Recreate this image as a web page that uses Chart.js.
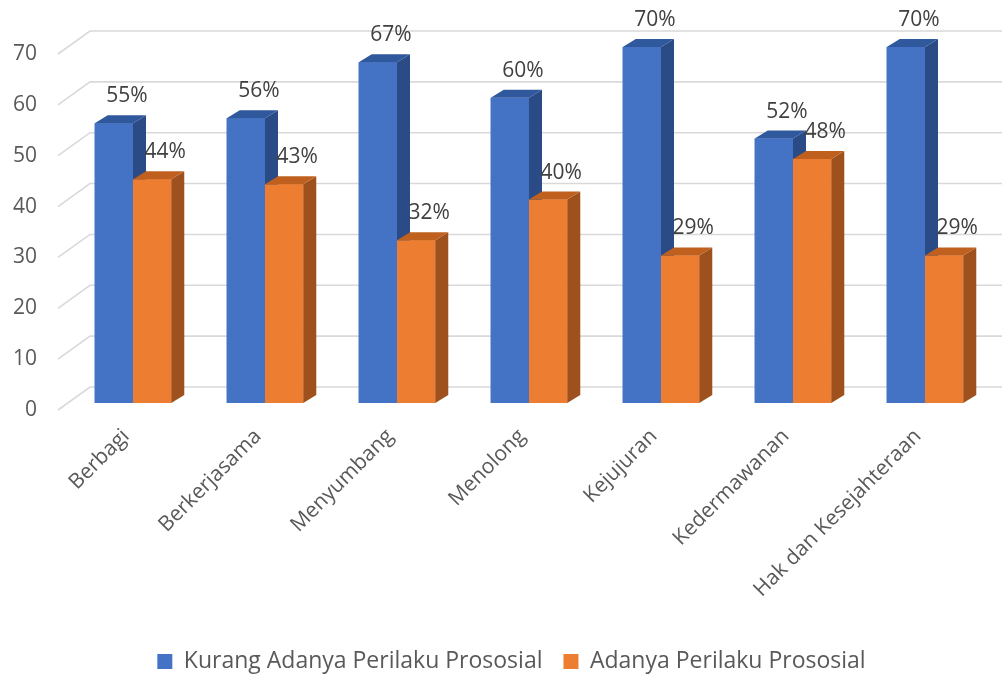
<!DOCTYPE html>
<html><head><meta charset="utf-8">
<script src="https://cdn.jsdelivr.net/npm/chart.js@4.4.1/dist/chart.umd.min.js"></script>
<style>html,body{margin:0;padding:0;background:#fff}#wrap{width:1002px;height:677px;position:relative}</style>
</head><body><div id="wrap"><canvas id="c"></canvas></div>
<script>
const categories = ['Berbagi', 'Berkerjasama', 'Menyumbang', 'Menolong', 'Kejujuran', 'Kedermawanan', 'Hak dan Kesejahteraan'];
const seriesNames = ['Kurang Adanya Perilaku Prososial', 'Adanya Perilaku Prososial'];
const kurangValues = [55, 56, 67, 60, 70, 52, 70];
const adanyaValues = [44, 43, 32, 40, 29, 48, 29];
const yTickValues = [0, 10, 20, 30, 40, 50, 60, 70];

const FONT = '"Open Sans", "Noto Sans", sans-serif';
const DX = 13, DY = 8;
const FRONT_X = 58, WALL_X = 90, FRONT_DY = 7, WALL_DY = -16;
const LEGEND_SHIFT = 32;
const faces = [
  {front: '#4472C4', top: '#30589C', side: '#2A4B85'},
  {front: '#ED7D31', top: '#C0601F', side: '#9E511C'}
];

const threeD = {
  id: 'threeD',
  afterLayout(chart) {
    if (chart.legend) chart.legend.left += LEGEND_SHIFT;
  },
  beforeDatasetsDraw(chart) {
    const {ctx, scales: {y}, width} = chart;
    ctx.save();
    ctx.strokeStyle = '#D9D9D9';
    ctx.lineWidth = 1.6;
    yTickValues.forEach(v => {
      const p = y.getPixelForValue(v);
      ctx.beginPath();
      ctx.moveTo(FRONT_X, p + FRONT_DY);
      ctx.lineTo(WALL_X, p + WALL_DY);
      ctx.lineTo(width, p + WALL_DY);
      ctx.stroke();
    });
    ctx.restore();
  },
  afterDatasetsDraw(chart) {
    const ctx = chart.ctx;
    const metas = [chart.getDatasetMeta(0), chart.getDatasetMeta(1)];
    ctx.save();
    for (let i = 0; i < categories.length; i++) {
      metas.forEach((m, d) => {
        const el = m.data[i];
        const {x, y, base, width} = el.getProps(['x', 'y', 'base', 'width'], true);
        const x0 = x - width / 2, x1 = x + width / 2;
        const c = faces[d];
        ctx.fillStyle = c.front;
        ctx.fillRect(x0, y, width, base - y);
        ctx.fillStyle = c.side;
        ctx.beginPath();
        ctx.moveTo(x1, y); ctx.lineTo(x1 + DX, y - DY); ctx.lineTo(x1 + DX, base - DY); ctx.lineTo(x1, base);
        ctx.closePath(); ctx.fill();
        ctx.fillStyle = c.top;
        ctx.beginPath();
        ctx.moveTo(x0, y); ctx.lineTo(x0 + DX, y - DY); ctx.lineTo(x1 + DX, y - DY); ctx.lineTo(x1, y);
        ctx.closePath(); ctx.fill();
      });
    }
    ctx.font = '21px ' + FONT;
    ctx.fillStyle = '#404040';
    ctx.textAlign = 'center';
    ctx.textBaseline = 'middle';
    metas.forEach((m, d) => {
      const vals = chart.data.datasets[d].data;
      m.data.forEach((el, i) => {
        ctx.fillText(vals[i] + '%', el.x + 13, el.y - DY - 19);
      });
    });
    ctx.restore();
  }
};

new Chart(document.getElementById('c'), {
  type: 'bar',
  data: {
    labels: categories,
    datasets: [
      {label: seriesNames[0], data: kurangValues, backgroundColor: faces[0].front, borderWidth: 0},
      {label: seriesNames[1], data: adanyaValues, backgroundColor: faces[1].front, borderWidth: 0}
    ]
  },
  options: {
    responsive: true,
    maintainAspectRatio: false,
    animation: false,
    datasets: {bar: {categoryPercentage: 0.58, barPercentage: 1}},
    layout: {padding: {top: 47, right: 11, left: 0, bottom: -6}},
    plugins: {
      legend: {
        position: 'bottom',
        labels: {boxWidth: 15, boxHeight: 15, padding: 21, color: '#595959', font: {family: FONT, size: 23}}
      },
      tooltip: {enabled: false}
    },
    scales: {
      x: {
        grid: {display: false, drawTicks: false},
        border: {display: false},
        ticks: {minRotation: 45, maxRotation: 45, padding: 21, labelOffset: -7, color: '#595959', font: {family: FONT, size: 21}},
        afterFit: s => { s.height = 226; }
      },
      y: {
        min: 0, max: 70,
        grid: {display: false, drawTicks: false},
        border: {display: false},
        ticks: {stepSize: 10, padding: 30, labelOffset: 7, color: '#595959', font: {family: FONT, size: 21},
          callback: (v) => yTickValues.includes(v) ? String(v) : ''},
        afterFit: s => { s.width = 67; }
      }
    }
  },
  plugins: [threeD]
});
</script>
</body></html>
